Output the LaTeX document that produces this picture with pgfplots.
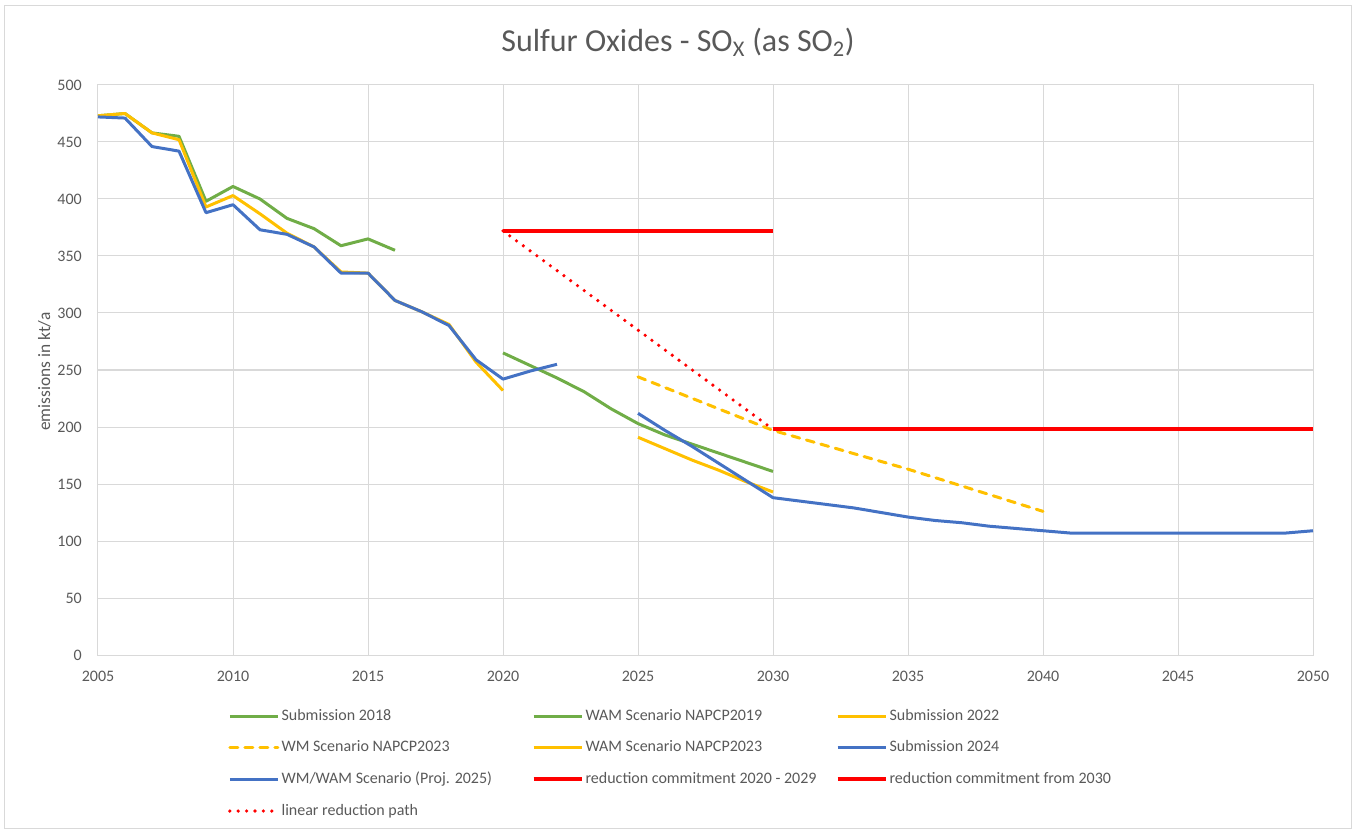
\documentclass[border=0pt]{standalone}
\usepackage{pgfplots}
\pgfplotsset{compat=1.18}
\usepackage{fontspec}
\setmainfont{Carlito}
\definecolor{cgreen}{HTML}{70AD47}
\definecolor{cyellow}{HTML}{FFC000}
\definecolor{cblue}{HTML}{4472C4}
\definecolor{cred}{HTML}{FF0000}
\definecolor{ctext}{HTML}{595959}
\definecolor{cgrid}{HTML}{D9D9D9}
\newcommand{\lt}[1]{\makebox[187.5pt][l]{#1}}
\begin{document}
\begin{tikzpicture}
\begin{axis}[
  scale only axis, width=911.25pt, height=427.5pt,
  xmin=2005, xmax=2050, ymin=0, ymax=500,
  xtick={2005,2010,...,2050}, ytick={0,50,...,500},
  grid=major, major grid style={draw=cgrid, line width=0.75pt},
  axis line style={draw=cgrid, line width=0.75pt},
  major tick length=0pt,
  tick label style={font=\fontsize{12}{14}\selectfont, text=ctext, inner sep=0pt},
  xticklabel style={yshift=-12pt},
  yticklabel style={xshift=-12pt},
  /pgf/number format/1000 sep={},
  /pgf/number format/assume math mode=true,
  clip=false,
  every axis plot/.append style={line width=2.25pt, line join=round},
  legend columns=3,
  legend cell align=left,
  legend style={draw=none, fill=none, inner sep=0pt, outer sep=0pt,
    at={(rel axis cs:0,0)}, anchor=north west, xshift=97.5pt, yshift=-39.75pt,
    nodes={font=\fontsize{12}{14}\selectfont, text=ctext, inner sep=0pt, text height=9pt, text depth=3pt},
    row sep=11.75pt,
    /tikz/every odd column/.style={column sep=1.5pt}},
  legend image code/.code={\draw[#1] (0pt,0pt) -- (36pt,0pt);},
]
\coordinate (O) at (rel axis cs:0,0);

% Submission 2018
\addplot[cgreen] coordinates {(2005,473) (2006,475) (2007,458) (2008,455) (2009,398) (2010,411) (2011,400) (2012,383) (2013,374) (2014,359) (2015,365) (2016,355)};
\addlegendentry{\lt{Submission 2018}}
% WAM Scenario NAPCP2019
\addplot[cgreen] coordinates {(2020,265) (2021,254) (2022,243) (2023,231) (2024,216) (2025,203) (2026,193) (2027,185) (2028,177) (2029,169) (2030,161)};
\addlegendentry{\lt{WAM Scenario NAPCP2019}}
% Submission 2022
\addplot[cyellow] coordinates {(2005,473) (2006,475) (2007,458) (2008,452) (2009,393) (2010,403) (2011,387) (2012,370) (2013,358) (2014,336) (2015,335) (2016,311) (2017,301) (2018,290) (2019,257) (2020,232)};
\addlegendentry{\lt{Submission 2022}}
% WM Scenario NAPCP2023
\addplot[cyellow, line cap=round, dash pattern=on 6pt off 5.25pt] coordinates {(2025,244) (2030,197) (2035,163) (2040,126)};
\addlegendentry{\lt{WM Scenario NAPCP2023}}
% WAM Scenario NAPCP2023
\addplot[cyellow] coordinates {(2025,191) (2026,181) (2027,171) (2028,162) (2029,152) (2030,143)};
\addlegendentry{\lt{WAM Scenario NAPCP2023}}
% Submission 2024
\addplot[cblue] coordinates {(2005,472) (2006,471) (2007,446) (2008,442) (2009,388) (2010,395) (2011,373) (2012,369) (2013,358) (2014,335) (2015,335) (2016,311) (2017,301) (2018,289) (2019,259) (2020,242) (2021,249) (2022,255)};
\addlegendentry{\lt{Submission 2024}}
% WM/WAM Scenario (Proj. 2025)
\addplot[cblue] coordinates {(2025,212) (2026,197) (2027,183) (2028,168) (2029,153) (2030,138) (2031,135) (2032,132) (2033,129) (2034,125) (2035,121) (2036,118) (2037,116) (2038,113) (2039,111) (2040,109) (2041,107) (2042,107) (2043,107) (2044,107) (2045,107) (2046,107) (2047,107) (2048,107) (2049,107) (2050,109)};
\addlegendentry{\lt{WM/WAM Scenario (Proj. 2025)}}
% reduction commitment 2020 - 2029
\addplot[cred, line width=3pt] coordinates {(2020,372) (2030,372)};
\addlegendentry{\lt{reduction commitment 2020 - 2029}}
% reduction commitment from 2030
\addplot[cred, line width=3pt] coordinates {(2030,198) (2050,198)};
\addlegendentry{\lt{reduction commitment from 2030}}
% linear reduction path
\addplot[cred, line width=2.7pt, line cap=round, dash pattern=on 0pt off 6.3pt] coordinates {(2020,372) (2030,198)};
\addlegendentry{\lt{linear reduction path}}
\end{axis}
\node[anchor=base, font=\fontsize{24}{28}\selectfont, text=ctext] at ([xshift=435pt, yshift=452.25pt]O) {Sulfur Oxides - SO\textsubscript{X} (as SO\textsubscript{2})};
\node[rotate=90, anchor=base, font=\fontsize{13}{15}\selectfont, text=ctext] at ([xshift=-36pt, yshift=212.6pt]O) {emissions in kt/a};
\draw[cgrid, line width=0.75pt] ([xshift=-69.75pt, yshift=-129.75pt]O) rectangle ([xshift=939.75pt, yshift=486.75pt]O);
\path[use as bounding box] ([xshift=-73.5pt, yshift=-132.75pt]O) rectangle ([xshift=944.25pt, yshift=491.25pt]O);
\end{tikzpicture}
\end{document}
